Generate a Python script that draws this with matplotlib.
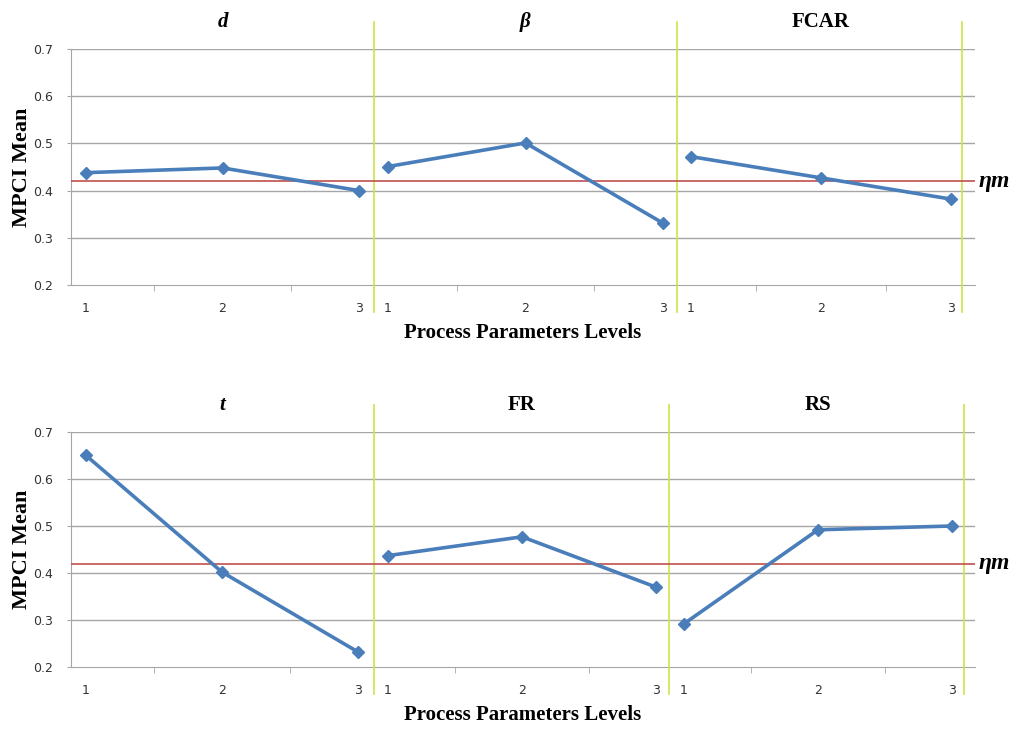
import matplotlib
matplotlib.use("Agg")
import matplotlib.pyplot as plt

# ---- data ----
levels = ["1", "2", "3"]
top_params = ["d", "β", "FCAR"]
top_values = [
    [0.438, 0.448, 0.400],
    [0.451, 0.501, 0.331],
    [0.472, 0.427, 0.382],
]
bottom_params = ["t", "FR", "RS"]
bottom_values = [
    [0.650, 0.402, 0.232],
    [0.437, 0.477, 0.370],
    [0.292, 0.492, 0.500],
]
eta_m = 0.42
y_ticks = [0.2, 0.3, 0.4, 0.5, 0.6, 0.7]

# ---- layout (pixel-like x units) ----
W, H = 1021, 730
XL, XR = 71, 975
rows = [
    dict(params=top_params, values=top_values, ytop=49, ybot=285,
         starts=[86, 388, 691], steps=[136.5, 137.5, 130], seps=[374, 677, 962],
         title_italic=[True, True, False]),
    dict(params=bottom_params, values=bottom_values, ytop=432, ybot=667,
         starts=[86, 388, 684], steps=[136, 134, 134], seps=[374, 669, 964],
         title_italic=[True, False, False]),
]

BLUE = "#4a7ebb"
RED = "#c0504d"
GRID = "#a6a6a6"
YEL = "#cfe04a"
SERIF = ["Liberation Serif", "DejaVu Serif"]

fig = plt.figure(figsize=(W / 100, H / 100), dpi=100)

for row in rows:
    hpx = row["ybot"] - row["ytop"]
    ax = fig.add_axes([XL / W, (H - row["ybot"]) / H, (XR - XL) / W, hpx / H])
    ax.set_xlim(XL, XR)
    ax.set_ylim(0.2, 0.7)
    for s in ["top", "right"]:
        ax.spines[s].set_visible(False)
    ax.spines["left"].set_color(GRID)
    ax.spines["bottom"].set_color(GRID)
    ax.set_yticks(y_ticks)
    ax.set_yticklabels([f"{v:.1f}" for v in y_ticks])
    ax.tick_params(axis="y", length=3, color=GRID, labelsize=9,
                   labelcolor="#333333", pad=10)
    for v in y_ticks[1:]:
        ax.axhline(v, color=GRID, lw=1.0, zorder=1)

    xt, xl, minor = [], [], []
    for g, (vals, p) in enumerate(zip(row["values"], row["params"])):
        xs = [row["starts"][g] + i * row["steps"][g] for i in range(len(levels))]
        ax.plot(xs, vals, color=BLUE, lw=2.6, marker="D", ms=6.5,
                mec=BLUE, mfc=BLUE, zorder=4, clip_on=False)
        xt += xs
        xl += levels
        minor += [(xs[i] + xs[i + 1]) / 2 for i in range(len(xs) - 1)]
        ax.text(xs[1], 1 + 27 / hpx, p, transform=ax.get_xaxis_transform(),
                ha="center", va="center", fontsize=15, fontweight="bold",
                fontstyle="italic" if row["title_italic"][g] else "normal",
                family=SERIF)
    ax.set_xticks(xt)
    ax.set_xticklabels(xl)
    ax.tick_params(axis="x", which="major", length=0, labelsize=9,
                   labelcolor="#333333", pad=12)
    ax.set_xticks(minor, minor=True)
    ax.tick_params(axis="x", which="minor", length=4, color=GRID)

    for sx in row["seps"]:
        ax.axvline(sx, ymin=-27 / hpx, ymax=1 + 27 / hpx, color=YEL,
                   lw=1.2, clip_on=False, zorder=3)

    ax.axhline(eta_m, color=RED, lw=1.2, zorder=3)
    ax.text(1.004, eta_m, "ηm", transform=ax.get_yaxis_transform(),
            ha="left", va="center", fontsize=17, fontweight="bold",
            fontstyle="italic", family=SERIF)

    ax.set_ylabel("MPCI Mean", fontsize=16, fontweight="bold", family=SERIF,
                  labelpad=1)
    ax.set_xlabel("Process Parameters Levels", fontsize=15, fontweight="bold",
                  family=SERIF, labelpad=6)

fig.savefig("out.png", dpi=100)
